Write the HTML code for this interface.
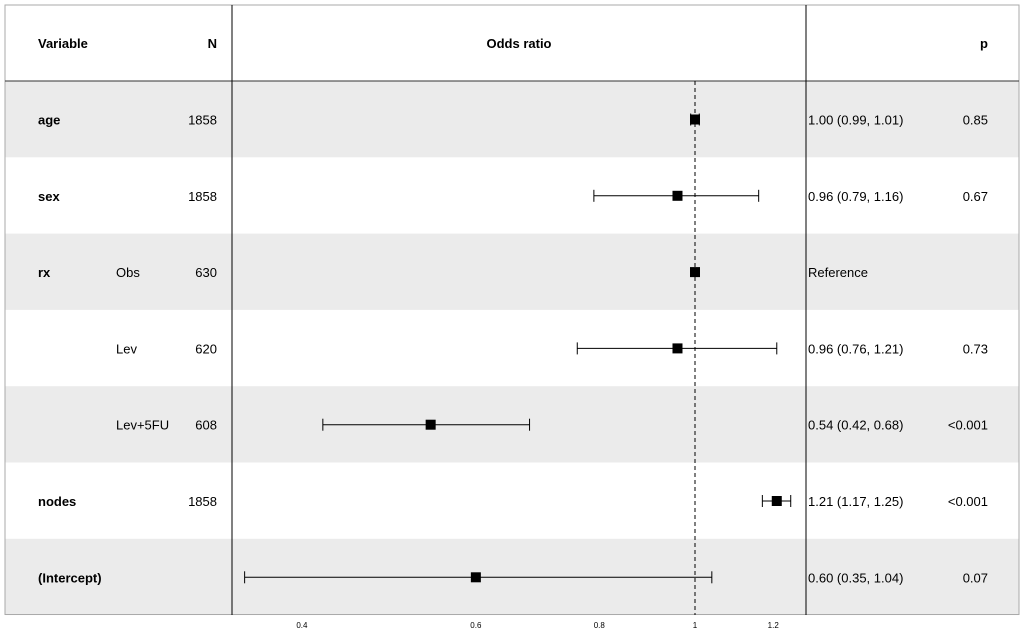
<!DOCTYPE html>
<html><head><meta charset="utf-8"><style>
body{margin:0;background:#fff;font-family:"Liberation Sans",Arial,sans-serif}
svg text{font-family:"Liberation Sans",Arial,sans-serif;font-size:13px;fill:#000}
</style></head><body>
<svg id="c" width="1024" height="633">
<g id="bg"></g><g id="grid"></g><g id="marks"></g><g id="txt"></g>
</svg>
<script>
const labels=["age","sex","rx","","","nodes","(Intercept)"];
const levels=["","","Obs","Lev","Lev+5FU","",""];
const ns=["1858","1858","630","620","608","1858",""];
const est=[1.00,0.96,1.00,0.96,0.54,1.21,0.60];
const lo=[0.99,0.79,null,0.76,0.42,1.17,0.35];
const hi=[1.01,1.16,null,1.21,0.68,1.25,1.04];
const ciText=["1.00 (0.99, 1.01)","0.96 (0.79, 1.16)","Reference","0.96 (0.76, 1.21)","0.54 (0.42, 0.68)","1.21 (1.17, 1.25)","0.60 (0.35, 1.04)"];
const pText=["0.85","0.67","","0.73","<0.001","<0.001","0.07"];
const ticks=[0.4,0.6,0.8,1,1.2];
const NS="http://www.w3.org/2000/svg";
function x(v){return 695+Math.log(v)*429;}
function rowY(i){return 81+i*76.3;}
function mk(p,tag,a,name,t){const e=document.createElementNS(NS,tag);for(const k in a)e.setAttribute(k,a[k]);


if(t!==undefined)e.textContent=t;document.getElementById(p).appendChild(e);return e;}
const T=(tx,xx,y,anchor,bold,name,size)=>{const e=mk('txt','text',{x:xx,y:y,'text-anchor':anchor,'font-weight':bold?'bold':'normal'},name,tx);if(size)e.style.fontSize=size+'px';};
// rows
for(let i=0;i<labels.length;i++){
 const y0=rowY(i),cy=y0+38.5;
 if(i%2==0)mk('bg','rect',{x:5,y:y0,width:1014,height:76.3,fill:'#ebebeb'},'row-band');
 T(labels[i],38,cy+5,'start',true,'variable-label');
 T(levels[i],116,cy+5,'start',false,'level-label');
 T(ns[i],217,cy+5,'end',false,'n-value');
 T(ciText[i],808,cy+5,'start',false,'or-ci-text');
 T(pText[i],988,cy+5,'end',false,'p-value');
 if(lo[i]!=null){
  mk('marks','line',{x1:x(lo[i]),x2:x(hi[i]),y1:cy,y2:cy,stroke:'#000','stroke-width':1},'ci-line');
  mk('marks','line',{x1:x(lo[i]),x2:x(lo[i]),y1:cy-6,y2:cy+6,stroke:'#000'},'ci-cap');
  mk('marks','line',{x1:x(hi[i]),x2:x(hi[i]),y1:cy-6,y2:cy+6,stroke:'#000'},'ci-cap');
 }
 mk('marks','rect',{x:x(est[i])-5,y:cy-5,width:10,height:10,fill:'#000'},'estimate-point');
}
// header
T('Variable',38,48,'start',true,'header-variable');
T('N',217,48,'end',true,'header-n');
T('Odds ratio',519,48,'middle',true,'header-odds-ratio');
T('p',988,48,'end',true,'header-p');
// frame
mk('grid','rect',{x:5,y:5,width:1014,height:609.5,fill:'none',stroke:'#aaa'},'outer-border');
mk('grid','line',{x1:5,x2:1019,y1:81,y2:81,stroke:'#333'},'header-rule');
mk('grid','line',{x1:232,x2:232,y1:5,y2:615,stroke:'#000'},'plot-left-border');
mk('grid','line',{x1:806,x2:806,y1:5,y2:615,stroke:'#000'},'plot-right-border');
mk('grid','line',{x1:x(1),x2:x(1),y1:81,y2:615,stroke:'#000','stroke-dasharray':'4,3'},'reference-line');
ticks.forEach(t=>T(String(t),x(t),628,'middle',false,'x-tick-label',8));
</script>
</body></html>
